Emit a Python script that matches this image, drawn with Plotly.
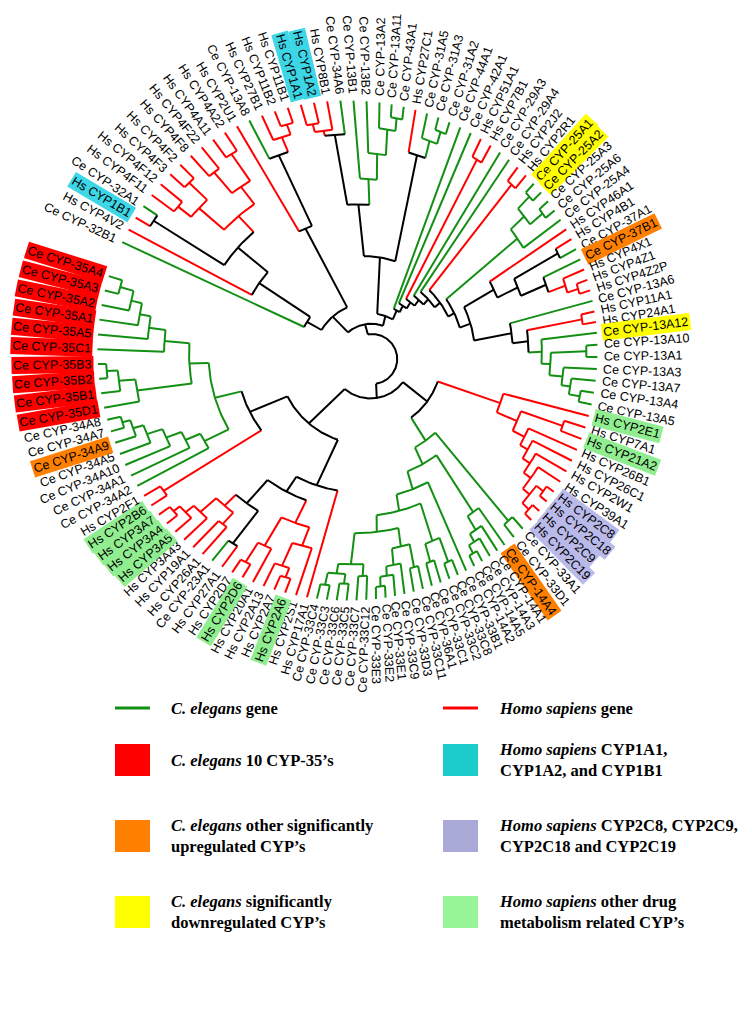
import math
import plotly.graph_objects as go

# ------------------------------------------------------------------ data
LEAVES = [
    "Ce CYP-32B1", "Hs CYP4V2", "Hs CYP1B1", "Ce CYP-32A1", "Hs CYP4F11", "Hs CYP4F12",
    "Hs CYP4F3", "Hs CYP4F2", "Hs CYP4F8", "Hs CYP4F22", "Hs CYP4A11", "Hs CYP4A22",
    "Hs CYP2U1", "Ce CYP-13A8", "Hs CYP27B1", "Hs CYP11B2", "Hs CYP11B1", "Hs CYP1A1",
    "Hs CYP1A2", "Hs CYP8B1", "Ce CYP-34A6", "Ce CYP-13B1", "Ce CYP-13B2", "Ce CYP-13A2",
    "Ce CYP-13A11", "Ce CYP-43A1", "Hs CYP27C1", "Ce CYP-31A5", "Ce CYP-31A3", "Ce CYP-31A2",
    "Ce CYP-44A1", "Ce CYP-42A1", "Hs CYP51A1", "Hs CYP7B1", "Ce CYP-29A3", "Ce CYP-29A4",
    "Hs CYP2J2", "Hs CYP2R1", "Ce CYP-25A1", "Ce CYP-25A2", "Ce CYP-25A3", "Ce CYP-25A6",
    "Ce CYP-25A4", "Hs CYP46A1", "Hs CYP4B1", "Ce CYP-37A1", "Ce CYP-37B1", "Hs CYP4X1",
    "Hs CYP4Z1", "Hs CYP4Z2P", "Ce CYP-13A6", "Hs CYP11A1", "Hs CYP24A1", "Ce CYP-13A12",
    "Ce CYP-13A10", "Ce CYP-13A1", "Ce CYP-13A3", "Ce CYP-13A7", "Ce CYP-13A4", "Ce CYP-13A5",
    "Hs CYP2E1", "Hs CYP7A1", "Hs CYP21A2", "Hs CYP26B1", "Hs CYP26C1", "Hs CYP2W1",
    "Hs CYP39A1", "Hs CYP2C8", "Hs CYP2C18", "Hs CYP2C9", "Hs CYP2C19", "Ce CYP-33A1",
    "Ce CYP-33D1", "Ce CYP-14A4", "Ce CYP-14A1", "Ce CYP-14A3", "Ce CYP-14A5", "Ce CYP-14A2",
    "Ce CYP-33B1", "Ce CYP-33C8", "Ce CYP-33C2", "Ce CYP-33C1", "Ce CYP-36A1", "Ce CYP-33C11",
    "Ce CYP-33D3", "Ce CYP-33C9", "Ce CYP-33E1", "Ce CYP-33E2", "Ce CYP-33E3", "Ce CYP-33C12",
    "Ce CYP-33C7", "Ce CYP-33C5", "Ce CYP-33C6", "Ce CYP-33C3", "Ce CYP-33C4", "Hs CYP17A1",
    "Hs CYP2S1", "Hs CYP2A6", "Hs CYP2A7", "Hs CYP2A13", "Hs CYP20A1", "Hs CYP2D6",
    "Hs CYP2D7", "Hs CYP27A1", "Ce CYP-23A1", "Hs CYP26A1", "Hs CYP19A1", "Hs CYP3A43",
    "Hs CYP3A5", "Hs CYP3A4", "Hs CYP3A7", "Hs CYP2B6", "Hs CYP2F1", "Ce CYP-34A2",
    "Ce CYP-34A1", "Ce CYP-34A10", "Ce CYP-34A5", "Ce CYP-34A9", "Ce CYP-34A7", "Ce CYP-34A8",
    "Ce CYP-35D1", "Ce CYP-35B1", "Ce CYP-35B2", "Ce CYP-35B3", "Ce CYP-35C1", "Ce CYP-35A5",
    "Ce CYP-35A1", "Ce CYP-35A2", "Ce CYP-35A3", "Ce CYP-35A4",
]

HL_CE35 = ["Ce CYP-35D1", "Ce CYP-35B1", "Ce CYP-35B2", "Ce CYP-35B3", "Ce CYP-35C1",
           "Ce CYP-35A5", "Ce CYP-35A1", "Ce CYP-35A2", "Ce CYP-35A3", "Ce CYP-35A4"]
HL_CE_UP = ["Ce CYP-34A9", "Ce CYP-37B1", "Ce CYP-14A4"]
HL_CE_DOWN = ["Ce CYP-25A1", "Ce CYP-25A2", "Ce CYP-13A12"]
HL_HS_CYP1 = ["Hs CYP1A1", "Hs CYP1A2", "Hs CYP1B1"]
HL_HS_CYP2C = ["Hs CYP2C8", "Hs CYP2C18", "Hs CYP2C9", "Hs CYP2C19"]
HL_HS_DRUG = ["Hs CYP2E1", "Hs CYP21A2", "Hs CYP2A6", "Hs CYP2D6", "Hs CYP3A4",
              "Hs CYP3A5", "Hs CYP3A7", "Hs CYP2B6"]

# tree topology (Newick); number after ')' = relative node depth (root 0 .. tips 1)
TL4 = ("(((Hs CYP4F11,Hs CYP4F12)0.9,(Hs CYP4F3,Hs CYP4F2)0.93)0.84,"
       "((Hs CYP4F8,Hs CYP4F22)0.9,(Hs CYP4A11,Hs CYP4A22)0.92)0.8)0.72")
TL = "(Ce CYP-32B1,(Hs CYP4V2,((Hs CYP1B1,Ce CYP-32A1)0.94," + TL4 + ")0.64)0.5)0.28"
T2 = "(Hs CYP2U1,(Ce CYP-13A8,(Hs CYP27B1,(Hs CYP11B2,Hs CYP11B1)0.94)0.9)0.84)0.55"
T3 = ("((((Hs CYP1A1,Hs CYP1A2)0.92,Hs CYP8B1)0.89,Ce CYP-34A6)0.87,"
      "(Ce CYP-13B1,(Ce CYP-13B2,(Ce CYP-13A2,(Ce CYP-13A11,Ce CYP-43A1)0.95)0.9)0.8)0.7)0.6")
T4 = "(Hs CYP27C1,(Ce CYP-31A5,(Ce CYP-31A3,Ce CYP-31A2)0.95)0.9)0.83"
G25 = "(((Ce CYP-25A1,Ce CYP-25A2)0.95,(Ce CYP-25A3,Ce CYP-25A6)0.95)0.88,Ce CYP-25A4)0.8"
RR = ("(Hs CYP46A1,((Hs CYP4B1,Ce CYP-37A1)0.92,"
      "(Ce CYP-37B1,(Hs CYP4X1,(Hs CYP4Z1,Hs CYP4Z2P)0.95)0.9)0.82)0.7)0.6")
N0 = ("(Ce CYP-13A6,((Hs CYP11A1,Hs CYP24A1)0.94,(Ce CYP-13A12,((Ce CYP-13A10,Ce CYP-13A1)0.95,"
      "(Ce CYP-13A3,(Ce CYP-13A7,(Ce CYP-13A4,Ce CYP-13A5)0.94)0.89)0.85)0.79)0.75)0.69)0.62")
RN = "(" + RR + "," + N0 + ")0.45"
RT = ("(Ce CYP-44A1,(Ce CYP-42A1,((Hs CYP51A1,Hs CYP7B1)0.92,(Ce CYP-29A3,(Ce CYP-29A4,"
      "((Hs CYP2J2,Hs CYP2R1)0.93,(" + G25 + "," + RN + ")0.4)0.37)0.34)0.31)0.28)0.25)0.22")
RB = ("(Hs CYP2E1,((Hs CYP7A1,Hs CYP21A2)0.9,(Hs CYP26B1,(Hs CYP26C1,(Hs CYP2W1,(Hs CYP39A1,"
      "((Hs CYP2C8,Hs CYP2C18)0.96,(Hs CYP2C9,Hs CYP2C19)0.96)0.92)0.88)0.84)0.8)0.76)0.7)0.6")
X1 = "((Ce CYP-33C8,Ce CYP-33C2)0.93,(Ce CYP-33C1,Ce CYP-36A1)0.9)0.82"
X2A = ("((Ce CYP-33C11,Ce CYP-33D3)0.9,(Ce CYP-33C9,(Ce CYP-33E1,"
       "(Ce CYP-33E2,Ce CYP-33E3)0.95)0.91)0.87)0.8")
X2B = ("((Ce CYP-33C12,Ce CYP-33C7)0.9,((Ce CYP-33C5,Ce CYP-33C6)0.93,"
       "(Ce CYP-33C3,Ce CYP-33C4)0.94)0.89)0.85")
BG = ("((Ce CYP-33A1,Ce CYP-33D1)0.93,((Ce CYP-14A4,(Ce CYP-14A1,(Ce CYP-14A3,"
      "(Ce CYP-14A5,Ce CYP-14A2)0.95)0.91)0.87)0.8,(Ce CYP-33B1,(" + X1 + ",(" + X2A + "," + X2B +
      ")0.72)0.65)0.58)0.5)0.42")
BLA = ("((Hs CYP2S1,((Hs CYP2A6,Hs CYP2A7)0.94,Hs CYP2A13)0.9)0.8,"
       "(Hs CYP20A1,(Hs CYP2D6,Hs CYP2D7)0.94)0.85)0.72")
BLB = ("((Hs CYP27A1,Ce CYP-23A1)0.9,((Hs CYP26A1,Hs CYP19A1)0.86,"
       "(Hs CYP3A43,(Hs CYP3A5,(Hs CYP3A4,Hs CYP3A7)0.95)0.92)0.88)0.8)0.74")
BL = "(Hs CYP17A1,(" + BLA + "," + BLB + ")0.62)0.55"
G34 = ("(Ce CYP-34A2,(Ce CYP-34A1,(Ce CYP-34A10,(Ce CYP-34A5,(Ce CYP-34A9,"
       "(Ce CYP-34A7,Ce CYP-34A8)0.95)0.92)0.88)0.82)0.76)0.7")
G35 = ("((Ce CYP-35D1,(Ce CYP-35B1,(Ce CYP-35B2,Ce CYP-35B3)0.97)0.93)0.87,"
       "(Ce CYP-35C1,(Ce CYP-35A5,(Ce CYP-35A1,(Ce CYP-35A2,(Ce CYP-35A3,Ce CYP-35A4)0.95)0.9)0.86)0.82)0.76)0.67")
LL = "((Hs CYP2B6,Hs CYP2F1)0.93,(" + G34 + "," + G35 + ")0.6)0.5"
UPPER = "((" + TL + "," + T2 + ")0.22,((" + T3 + "," + T4 + ")0.4," + RT + ")0.18)0.14"
LOWER = "((" + RB + "," + BG + ")0.3,(" + BL + "," + LL + ")0.35)0.16"
TREE = "(" + UPPER + "," + LOWER + ")0.1"

# ------------------------------------------------------------------ geometry / style
W, H = 752, 1018
PAGE_MARGIN = 8                    # default <body> margin of the html page
CA = (375.0, 360.0)                # angular centre (root)
CR = (347.5, 350.5)                # centre of the tip ring
R_RING = 250.0
LAB_GAP = 5.0
# angular scale: leaf slot -> polar angle (deg); the figure's leaf spacing is not uniform
ANGLE_SCALE = [(0, 155.0), (23, 89.0), (53, 7.0), (73, -55.0), (95, -106.0),
               (120, -170.0), (129, -197.5)]
GREEN, RED, BLACK = "#138f13", "#ff0000", "#000000"
FS = 12.5
HL_COLORS = {
    "ce35": "#ff0000", "up": "#ff8000", "down": "#ffff00",
    "cyp1": "#3cd6e6", "cyp2c": "#b9b9ea", "drug": "#90ee90",
}


def slot_angle(i):
    for (i0, a0), (i1, a1) in zip(ANGLE_SCALE[:-1], ANGLE_SCALE[1:]):
        if i0 <= i <= i1:
            return a0 + (a1 - a0) * (i - i0) / (i1 - i0)
    return ANGLE_SCALE[-1][1]


def parse(s):
    pos = 0

    def node():
        nonlocal pos
        if s[pos] == "(":
            pos += 1
            kids = [node()]
            while s[pos] == ",":
                pos += 1
                kids.append(node())
            pos += 1  # ')'
            st = pos
            while pos < len(s) and s[pos] not in ",)":
                pos += 1
            return {"kids": kids, "r": float(s[st:pos])}
        st = pos
        while s[pos] not in ",)":
            pos += 1
        return {"name": s[st:pos].strip(), "r": 1.0}

    return node()


root = parse(TREE)
ANG = {n: slot_angle(i) for i, n in enumerate(LEAVES)}


def lay(n):
    if "name" in n:
        n["a"] = ANG[n["name"]]
        n["sp"] = {n["name"][:2]}
    else:
        for k in n["kids"]:
            lay(k)
        n["a"] = (n["kids"][0]["a"] + n["kids"][-1]["a"]) / 2.0
        n["sp"] = set().union(*[k["sp"] for k in n["kids"]])


lay(root)


def col(n):
    if n["sp"] == {"Ce"}:
        return GREEN
    if n["sp"] == {"Hs"}:
        return RED
    return BLACK


def tip_dist(a):
    t = math.radians(a)
    ux, uy = math.cos(t), -math.sin(t)
    dx, dy = CA[0] - CR[0], CA[1] - CR[1]
    b = dx * ux + dy * uy
    c = dx * dx + dy * dy - R_RING * R_RING
    return -b + math.sqrt(b * b - c)


def P(r, a, extra=0.0):
    t = math.radians(a)
    d = r * tip_dist(a) + extra
    return CA[0] + d * math.cos(t), CA[1] - d * math.sin(t)


segs = {GREEN: ([], []), RED: ([], []), BLACK: ([], [])}


def add(c, pts):
    xs, ys = segs[c]
    for p in pts:
        xs.append(p[0])
        ys.append(p[1])
    xs.append(None)
    ys.append(None)


def draw(n):
    if "kids" not in n:
        return
    angs = [k["a"] for k in n["kids"]]
    a1, a2 = min(angs), max(angs)
    nstep = max(2, int((a2 - a1) / 0.8) + 1)
    add(col(n), [P(n["r"], a1 + (a2 - a1) * j / nstep) for j in range(nstep + 1)])
    for k in n["kids"]:
        add(col(k), [P(n["r"], k["a"]), P(k["r"], k["a"])])
        draw(k)


draw(root)

fig = go.Figure()
for c in (GREEN, RED, BLACK):
    fig.add_trace(go.Scatter(x=segs[c][0], y=segs[c][1], mode="lines",
                             line=dict(color=c, width=2), hoverinfo="skip", showlegend=False))

# Arial advance widths (per 1000 em)
AW = {" ": 278, "-": 333, "C": 722, "e": 556, "H": 722, "s": 500, "Y": 667, "P": 667,
      "A": 667, "B": 667, "D": 722, "E": 667, "F": 611, "J": 500, "R": 722, "S": 667,
      "U": 722, "V": 667, "W": 944, "X": 667, "Z": 611}


def tw(t):
    return sum(AW.get(ch, 556) for ch in t) * FS / 1000.0


hl = {}
for key, lst in (("ce35", HL_CE35), ("up", HL_CE_UP), ("down", HL_CE_DOWN),
                 ("cyp1", HL_HS_CYP1), ("cyp2c", HL_HS_CYP2C), ("drug", HL_HS_DRUG)):
    for n in lst:
        hl[n] = HL_COLORS[key]

ann = []
for n in LEAVES:
    a = ANG[n]
    an = ((a + 180) % 360) - 180
    if -90 <= an <= 90:
        ta = -an
    else:
        ta = 180 - an
        ta = ((ta + 180) % 360) - 180
    w = tw(n) + 3
    x, y = P(1.0, a, LAB_GAP + w / 2.0)
    ann.append(dict(x=x, y=y, text=n, textangle=ta, showarrow=False, xanchor="center",
                    yanchor="middle", font=dict(family="Liberation Sans, Arial", size=FS,
                                                color="#000"),
                    bgcolor=hl.get(n, "rgba(0,0,0,0)"), borderpad=1))

# ------------------------------------------------------------------ legend
LEG_FONT = dict(family="Liberation Serif, Times New Roman", size=16.5, color="black")
shapes = [
    dict(type="line", x0=115, x1=150, y0=708, y1=708, line=dict(color=GREEN, width=3)),
    dict(type="line", x0=443, x1=478, y0=708, y1=708, line=dict(color=RED, width=3)),
]
legend_boxes = [
    (115, 760, "#ff0000", "<b><i>C. elegans</i> 10 CYP-35’s</b>"),
    (443, 760, "#1ccbcb", "<b><i>Homo sapiens</i> CYP1A1,<br>CYP1A2, and CYP1B1</b>"),
    (115, 836, "#ff8000", "<b><i>C. elegans</i> other significantly<br>upregulated CYP’s</b>"),
    (443, 836, "#a9aad8", "<b><i>Homo sapiens</i> CYP2C8, CYP2C9,<br>CYP2C18 and CYP2C19</b>"),
    (115, 912, "#ffff00", "<b><i>C. elegans</i> significantly<br>downregulated CYP’s</b>"),
    (443, 912, "#98f598", "<b><i>Homo sapiens</i> other drug<br>metabolism related CYP’s</b>"),
]
for x0, yc, c, t in legend_boxes:
    shapes.append(dict(type="rect", x0=x0, x1=x0 + 35, y0=yc - 16, y1=yc + 16,
                       fillcolor=c, line=dict(width=0)))
    ann.append(dict(x=x0 + 54, y=yc, text=t, showarrow=False, xanchor="left",
                    yanchor="middle", align="left", font=LEG_FONT))
ann.append(dict(x=169, y=708, text="<b><i>C. elegans</i> gene</b>", showarrow=False,
                xanchor="left", yanchor="middle", font=LEG_FONT))
ann.append(dict(x=497, y=708, text="<b><i>Homo sapiens</i> gene</b>", showarrow=False,
                xanchor="left", yanchor="middle", font=LEG_FONT))

# the page adds an 8 px body margin: size the figure to fit and keep
# data units equal to screen pixels of the window
fig.update_layout(
    width=W - PAGE_MARGIN, height=H - PAGE_MARGIN, margin=dict(l=0, r=0, t=0, b=0),
    paper_bgcolor="white", plot_bgcolor="white",
    xaxis=dict(range=[PAGE_MARGIN, W], visible=False, fixedrange=True),
    yaxis=dict(range=[H, PAGE_MARGIN], visible=False, fixedrange=True),
    annotations=ann, shapes=shapes, showlegend=False,
)
fig.write_html("out.html")
